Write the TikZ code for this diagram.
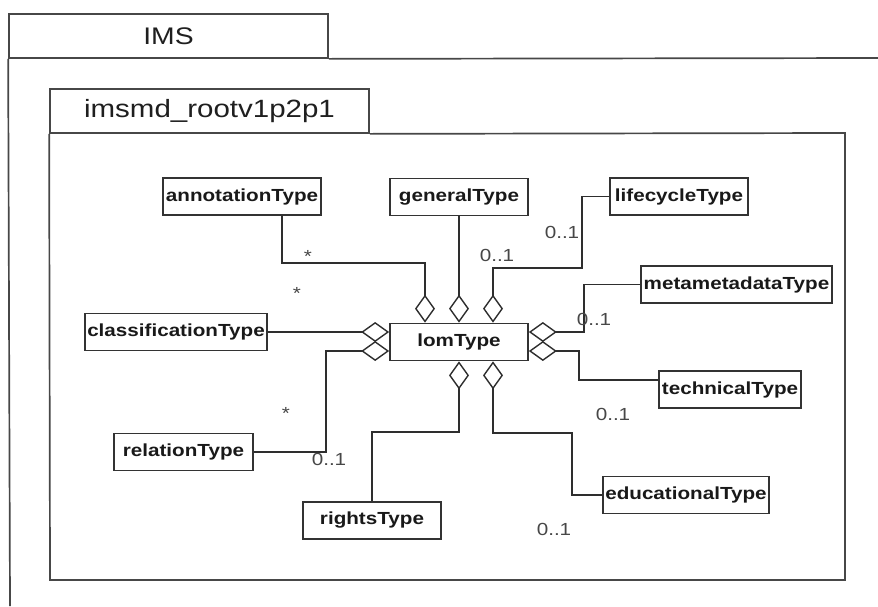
\documentclass[tikz,border=0pt]{standalone}
\usepackage{fontspec}
\setmainfont{Liberation Sans}[FakeStretch=1.18]
\usetikzlibrary{arrows.meta,calc}
\begin{document}
\begin{tikzpicture}[x=1pt,y=-1pt,
  frame/.style={draw=black!72,line width=1.7pt},
  tabbox/.style={frame,fill=white,inner sep=0pt,text=black!88},
  cls/.style={draw=black!80,line width=1.7pt,fill=white,inner xsep=1pt,inner ysep=0pt,
    minimum height=37pt,font=\fontsize{17.5}{20}\selectfont\bfseries,text=black!90},
  mult/.style={inner sep=0pt,font=\fontsize{17.5}{20}\selectfont,text=black!72},
  agg/.style={draw=black!82,line width=1.7pt,-{Diamond[open,length=28pt,width=20pt,line width=1.4pt]}}]
\useasboundingbox (0,0) rectangle (878,606);
% outer package
\node[tabbox,minimum width=319pt,minimum height=44pt,font=\fontsize{24}{28}\selectfont] (ims) at (168.5,36) {IMS};
\draw[frame] (ims.south west) -- (10,606);
\draw[frame] (ims.south east) -- (878,58);
% inner package
\node[tabbox,minimum width=319pt,minimum height=44pt,font=\fontsize{25}{29}\selectfont] (root) at (209.5,111) {imsmd\_rootv1p2p1};
\draw[frame] (root.south west) -- (50,580) -- (845,580) -- (845,133) -- (root.south east);
% classes
\node[cls,minimum width=138pt] (lom) at (459,342) {lomType};
\node[cls,minimum width=158pt] (ann) at (242,196.5) {annotationType};
\node[cls,minimum width=138pt] (gen) at (459,197) {generalType};
\node[cls,minimum width=138pt] (life) at (679,196.5) {lifecycleType};
\node[cls,minimum width=191pt] (meta) at (736.5,284.5) {metametadataType};
\node[cls,minimum width=182pt] (clsf) at (176,332) {classificationType};
\node[cls,minimum width=142pt] (tech) at (730,389.5) {technicalType};
\node[cls,minimum width=139pt] (rel) at (183.5,452) {relationType};
\node[cls,minimum width=138pt] (rights) at (372,520.5) {rightsType};
\node[cls,minimum width=166pt] (edu) at (686,495) {educationalType};
% connectors
\draw[agg] ([xshift=40pt]ann.south) -- ++(0,47) -| ([xshift=-34pt]lom.north);
\draw[agg] (gen.south) -- (lom.north);
\draw[agg] (life.west) -- ++(-27,0) -- ++(0,71.5) -| ([xshift=34pt]lom.north);
\draw[agg] (meta.west) -- ++(-56,0) |- ([yshift=10pt]lom.east);
\draw[agg] (clsf.east) -- ([yshift=10pt]lom.west);
\draw[agg] (rel.east) -- ++(72,0) |- ([yshift=-9pt]lom.west);
\draw[agg] ([yshift=9.5pt]tech.west) -- ++(-79,0) |- ([yshift=-9pt]lom.east);
\draw[agg] (edu.west) -- ++(-30,0) -- ++(0,-62) -| ([xshift=34pt]lom.south);
\draw[agg] (rights.north) -- ++(0,-69) -| (lom.south);
% multiplicities
\node[mult] (m1) at (308,256) {*};
\node[mult] (m2) at (297,293) {*};
\node[mult] (m3) at (286,413) {*};
\node[mult] (m4) at (562,232) {0..1};
\node[mult] (m5) at (497,255) {0..1};
\node[mult] (m6) at (594,319) {0..1};
\node[mult] (m7) at (613,414) {0..1};
\node[mult] (m8) at (554,529) {0..1};
\node[mult] (m9) at (329,459) {0..1};
\end{tikzpicture}
\end{document}
